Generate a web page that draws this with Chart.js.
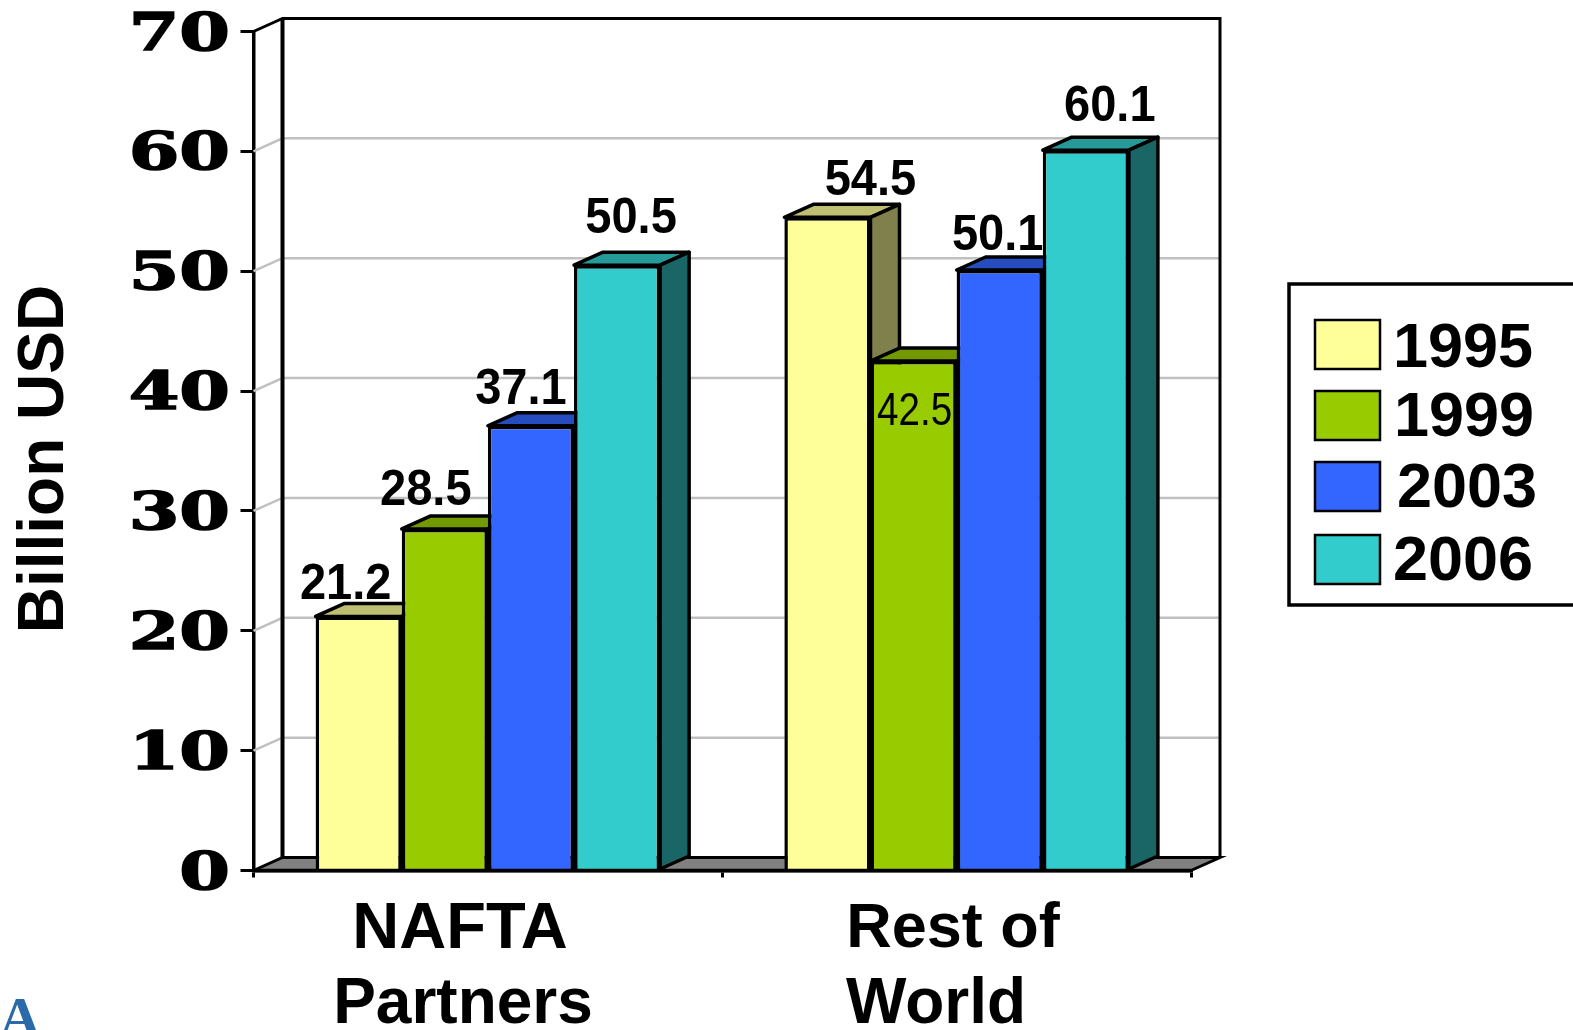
<!DOCTYPE html>
<html>
<head>
<meta charset="utf-8">
<title>Billion USD</title>
<script src="https://cdn.jsdelivr.net/npm/chart.js@4"></script>
<style>
  html, body { margin: 0; padding: 0; background: #fff; overflow: hidden; }
  canvas { display: block; }
</style>
</head>
<body>
<canvas id="myChart" width="1573" height="1030"></canvas>
<script>
const categories = [['NAFTA', 'Partners'], ['Rest of', 'World']]
const years = ['1995', '1999', '2003', '2006']
const values1995 = [21.2, 54.5]
const values1999 = [28.5, 42.5]
const values2003 = [37.1, 50.1]
const values2006 = [50.5, 60.1]
const colors = ['#ffff99', '#99cc00', '#3366ff', '#33cccc']
const topColors = ['#bfbf73', '#739900', '#264dbf', '#269999']
const sideColors = ['#80804d', '#4d6600', '#1a3380', '#1a6666']
const yTitle = 'Billion USD'
const seriesValues = [values1995, values1999, values2003, values2006]

// the picture does not put value labels in a regular place, so nudge each one
const labelNudgeX = [[-13, 43], [-19, 1], [-10, -2], [14, 24]]
const labelNudgeY = [[-31, -36], [-38, 51], [-36, -34], [-46, -43]]
const xLabelCenters = [[460, 463], [953, 936]]
const xLabelRows = [930, 1005]
const xLabelFonts = [[65, 64], [63, 64]]
const legendRows = [[320, 1393, 350], [391, 1394, 419], [462, 1397, 490], [535, 1393, 563]]

const depthX = 29
const depthY = 13
const BLACK = '#000'

const poly = (ctx, pts, fill, stroke, width) => {
    ctx.beginPath()
    pts.forEach((p, i) => i ? ctx.lineTo(p[0], p[1]) : ctx.moveTo(p[0], p[1]))
    ctx.closePath()
    if (fill) {
        ctx.fillStyle = fill
        ctx.fill()
    }
    if (stroke) {
        ctx.strokeStyle = stroke
        ctx.lineWidth = width
        ctx.lineJoin = 'round'
        ctx.stroke()
    }
}

const line = (ctx, pts, color, width) => {
    ctx.beginPath()
    pts.forEach((p, i) => i ? ctx.lineTo(p[0], p[1]) : ctx.moveTo(p[0], p[1]))
    ctx.strokeStyle = color
    ctx.lineWidth = width
    ctx.stroke()
}

// text with a horizontal stretch, since the fonts here have no wide cuts
const stretchedText = (ctx, text, x, y, font, sx, align, baseline, color, heavy) => {
    ctx.save()
    ctx.translate(x, y)
    ctx.scale(sx, 1)
    ctx.font = font
    ctx.textAlign = align
    ctx.textBaseline = baseline
    ctx.fillStyle = color || BLACK
    ctx.fillText(text, 0, 0)
    if (heavy) {
        ctx.strokeStyle = color || BLACK
        ctx.lineWidth = heavy
        ctx.strokeText(text, 0, 0)
    }
    ctx.restore()
}

// back wall, floor and gridlines of the 3D box, then the bars left to right
const wallsPlugin = {
    id: 'walls',
    beforeDatasetsDraw(chart) {
        const ctx = chart.ctx
        const { left, right, top, bottom } = chart.chartArea
        const yScale = chart.scales.y
        ctx.save()
        yScale.ticks.forEach((tick, i) => {
            if (tick.value === 0 || tick.value === yScale.max) return
            const y = yScale.getPixelForTick(i)
            line(ctx, [[left, y], [left + depthX, y - depthY], [right + depthX, y - depthY]], '#c0c0c0', 2.5)
        })
        poly(ctx, [[left, bottom], [left + depthX, bottom - depthY], [right + depthX, bottom - depthY], [right, bottom]], '#808080')
        line(ctx, [[left, bottom], [left + depthX, bottom - depthY], [right + depthX, bottom - depthY], [right, bottom]], BLACK, 3)
        line(ctx, [[left, top], [left + depthX, top - depthY], [right + depthX, top - depthY], [right + depthX, bottom - depthY]], BLACK, 3)
        line(ctx, [[left + depthX, top - depthY], [left + depthX, bottom - depthY]], BLACK, 4)

        // chart.js paints the last dataset first, here the later bars have to cover the earlier ones
        chart.data.datasets.forEach((ds, i) => {
            const meta = chart.getDatasetMeta(i)
            meta.data.forEach(bar => {
                const l = bar.x - bar.width / 2
                const r = bar.x + bar.width / 2
                const t = bar.y
                const b = bar.base
                poly(ctx, [[l, t], [l + depthX, t - depthY], [r + depthX, t - depthY], [r, t]], topColors[i], BLACK, 3.5)
                poly(ctx, [[r, t], [r + depthX, t - depthY], [r + depthX, b - depthY], [r, b]], sideColors[i], BLACK, 3.5)
            })
            meta.controller.draw()
        })
        // axis line again, the bars sit on top of it
        line(ctx, [[left, bottom], [right, bottom]], BLACK, 3.5)
        ctx.restore()
        return false
    }
}

const textPlugin = {
    id: 'texts',
    afterDraw(chart) {
        const ctx = chart.ctx
        const yScale = chart.scales.y

        // value labels
        chart.data.datasets.forEach((ds, i) => {
            const meta = chart.getDatasetMeta(i)
            meta.data.forEach((bar, j) => {
                const x = bar.x + labelNudgeX[i][j]
                const y = bar.y + labelNudgeY[i][j]
                const text = ds.data[j].toFixed(1)
                if (i === 1 && j === 1) {
                    stretchedText(ctx, text, x, y, '46px "Liberation Sans"', 0.84, 'center', 'middle')
                } else {
                    stretchedText(ctx, text, x, y, 'bold 50px "Liberation Sans"', 0.94, 'center', 'middle')
                }
            })
        })

        // y tick labels
        yScale.ticks.forEach((tick, i) => {
            const y = yScale.getPixelForTick(i)
            stretchedText(ctx, String(tick.value), 230, y + 18, 'bold 52px "DejaVu Serif"', 1.4, 'right', 'alphabetic', BLACK, 1.5)
        })

        // category labels
        categories.forEach((rows, i) => {
            rows.forEach((text, j) => {
                stretchedText(ctx, text, xLabelCenters[i][j], xLabelRows[j], 'bold ' + xLabelFonts[i][j] + 'px "Liberation Sans"', 1, 'center', 'middle')
            })
        })

        // axis title
        ctx.save()
        ctx.translate(45, 459)
        ctx.rotate(-Math.PI / 2)
        stretchedText(ctx, yTitle, 0, 0, 'bold 64px "Liberation Sans"', 1, 'center', 'middle')
        ctx.restore()

        // legend, its right edge runs off the page like in the picture
        ctx.save()
        line(ctx, [[1580, 284], [1289, 284], [1289, 605], [1580, 605]], BLACK, 3.5)
        years.forEach((year, i) => {
            const rowY = legendRows[i][0]
            ctx.fillStyle = colors[i]
            ctx.fillRect(1315, rowY, 65, 49)
            ctx.strokeStyle = BLACK
            ctx.lineWidth = 2.5
            ctx.strokeRect(1315, rowY, 65, 49)
            stretchedText(ctx, year, legendRows[i][1], legendRows[i][2], 'bold 63px "Liberation Sans"', 1, 'left', 'middle')
        })
        ctx.restore()

        // cut off logo in the corner
        stretchedText(ctx, 'DA', 41, 1037, 'bold 58px "Liberation Serif"', 1, 'right', 'alphabetic', '#2a6aa8')
    }
}

const ctx = document.getElementById('myChart')
new Chart(ctx, {
    type: 'bar',
    data: {
        labels: categories,
        datasets: years.map((year, i) => ({
            label: year,
            data: seriesValues[i],
            backgroundColor: colors[i],
            borderColor: BLACK,
            borderWidth: 3.5
        }))
    },
    options: {
        responsive: false,
        animation: false,
        layout: { padding: { left: 240.5, top: 31.5, right: 382, bottom: 0 } },
        datasets: { bar: { categoryPercentage: 0.735, barPercentage: 1 } },
        plugins: { legend: { display: false }, tooltip: { enabled: false } },
        scales: {
            x: {
                ticks: { display: false },
                grid: { drawOnChartArea: false, color: BLACK, lineWidth: 3, tickLength: 7 },
                border: { color: BLACK, width: 3.5 },
                afterFit: (scale) => { scale.height = 159.5 }
            },
            y: {
                min: 0,
                max: 70,
                ticks: { display: false, stepSize: 10 },
                grid: { drawOnChartArea: false, color: BLACK, lineWidth: 3, tickLength: 13 },
                border: { color: BLACK, width: 3.5 },
                afterFit: (scale) => { scale.width = 13 }
            }
        }
    },
    plugins: [wallsPlugin, textPlugin]
})
</script>
</body>
</html>
